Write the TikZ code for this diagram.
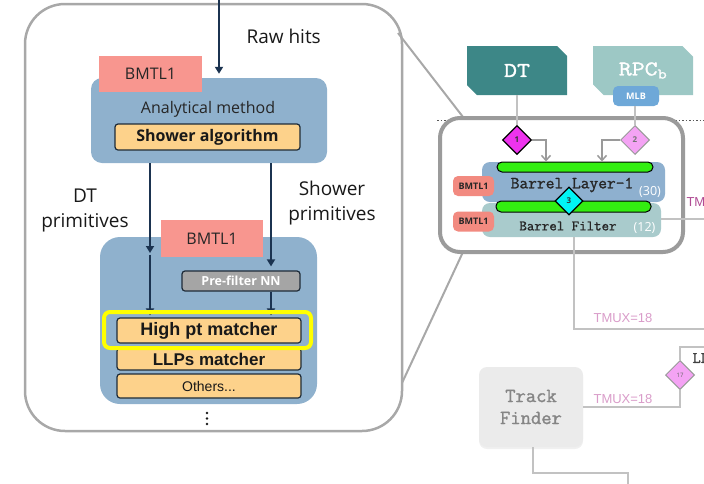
\documentclass[tikz,border=0pt]{standalone}
\usepackage{fontspec}
\setmainfont{Open Sans}
\newfontfamily\arialf{Liberation Sans}
\newfontfamily\typew{Latin Modern Mono}[FakeBold=1.4]
\newfontfamily\typewide{Latin Modern Mono}[FakeBold=1.4, FakeStretch=1.2]
\usetikzlibrary{arrows.meta,shapes.geometric,shapes.misc,shadows}

\definecolor{navy}{HTML}{1B3350}
\definecolor{boxblue}{HTML}{8FB1CD}
\definecolor{salmon}{HTML}{F8968F}
\definecolor{algo}{HTML}{FDD28B}
\definecolor{edgedark}{HTML}{1E2B38}
\definecolor{hlyellow}{HTML}{FFFF00}
\definecolor{prefill}{HTML}{A5A5A5}
\definecolor{panelgray}{HTML}{A8A8A8}
\definecolor{grpgray}{HTML}{9B9B9B}
\definecolor{linegray}{HTML}{C2C2C2}
\definecolor{arrowgray}{HTML}{9A9A9A}
\definecolor{dtteal}{HTML}{3D8787}
\definecolor{rpcteal}{HTML}{9DC8C5}
\definecolor{mlbblue}{HTML}{6EA8D8}
\definecolor{layerblue}{HTML}{8EB0CF}
\definecolor{filterteal}{HTML}{A9CBCC}
\definecolor{barfill}{HTML}{33EE11}
\definecolor{magdia}{HTML}{EE33EE}
\definecolor{pinkdia}{HTML}{F4A3F4}
\definecolor{cyandia}{HTML}{00F5F5}
\definecolor{tagred}{HTML}{F28A80}
\definecolor{tmuxdark}{HTML}{B04C94}
\definecolor{tmuxlight}{HTML}{D99CC9}
\definecolor{tfgray}{HTML}{EBEBEB}
\definecolor{tftext}{HTML}{858585}

\newcommand\fsz[2]{\fontsize{#1}{#2}\selectfont}

\tikzset{
  panelbox/.style={draw=panelgray, line width=2.5pt, rounded corners=40pt, inner sep=0pt},
  bluebox/.style={fill=boxblue, inner sep=0pt},
  tagbox/.style={fill=salmon, inner sep=0pt, text=black!85, font=\fsz{16}{19}},
  algobox/.style={fill=algo, draw=edgedark, line width=1.2pt, rounded corners=3pt, inner sep=0pt, text=black!90, minimum width=184},
  prebox/.style={fill=prefill, draw=edgedark, line width=1.2pt, rounded corners=3pt, inner sep=0pt, text=white, font=\bfseries\fsz{12.5}{15}},
  navyarrow/.style={draw=navy, line width=1.8pt, -{Triangle[length=7pt,width=8pt]}},
  lbl/.style={font=\fsz{19}{25}, text=black!90, align=center},
  zoomline/.style={draw=panelgray, line width=2pt},
  dotline/.style={draw=black!65, line width=1pt, dash pattern=on 1.5pt off 2pt},
  grpbox/.style={draw=grpgray, line width=4pt, rounded corners=20pt, fill=white, inner sep=0pt},
  srcbox/.style={chamfered rectangle, chamfered rectangle corners={north east,south west},
    chamfered rectangle xsep=7pt, minimum width=100, minimum height=49, inner sep=0pt,
    text=white, font=\typewide\fsz{21}{24}},
  greyline/.style={draw=linegray, line width=1.5pt},
  barbarrow/.style={draw=arrowgray, line width=1.5pt, -{Straight Barb[length=5pt,width=9pt]}},
  diam/.style={diamond, inner sep=0pt, minimum width=29, minimum height=29, font=\bfseries\fsz{8}{9}},
  greenbar/.style={fill=barfill, draw=black, line width=1pt, rounded corners=5pt, inner sep=0pt},
  tagsm/.style={fill=tagred, rounded corners=5pt, inner sep=0pt, minimum width=41, minimum height=20,
    text=black!85, font=\bfseries\fsz{9}{11}},
  tmux/.style={font=\arialf\fsz{13}{15}},
}

\begin{document}
\begin{tikzpicture}[x=1pt,y=-1pt]
\useasboundingbox (0,0) rectangle (704,483);
\clip (0,0) rectangle (704,483);

% ---------- detail panel ----------
\node[panelbox, minimum width=377, minimum height=427] (panel) at (213.5,217.5) {};

% first processing block
\node[bluebox, rounded corners=11pt, minimum width=236, minimum height=85] (ana) at (209,120.5) {};
\node[tagbox, minimum width=103, minimum height=36] (bm1) at (150.5,74) {BMTL1};
\node[font=\fsz{16}{19}, text=black!85] (anatxt) at (208,109) {Analytical method};
\node[algobox, minimum width=185, minimum height=26, font=\bfseries\fsz{16}{19}] (shw) at (207.5,137) {Shower algorithm};

\coordinate (rawin) at (219,0);
\draw[navyarrow, shorten >=4pt] (rawin) -- (rawin |- ana.north);
\node[font=\fsz{19}{23}, text=black!90, anchor=west] (rawtxt) at (243,36) {Raw hits};

% second processing block
\node[bluebox, rounded corners=20pt, minimum width=217, minimum height=167] (blk) at (208.5,320.5) {};
\node[tagbox, minimum width=102, minimum height=37] (bm2) at (212,238.5) {BMTL1};
\node[prebox, minimum width=118, minimum height=20] (pre) at (241,281) {Pre-filter NN};
\node[algobox, minimum height=25, font=\arialf\bfseries\fsz{18}{21}] (hpt) at (209,330.5) {High pt matcher};
\node[algobox, minimum height=22, font=\arialf\bfseries\fsz{17}{20}] (llp) at (209,359) {LLPs matcher};
\node[algobox, minimum height=24, font=\arialf\fsz{14}{17}] (oth) at (209,386) {Others...};

% primitive flows
\coordinate (dtmid) at (150,253);
\coordinate (shx) at (271,0);
\draw[navyarrow] (ana.south -| dtmid) -- (dtmid);
\draw[navyarrow, shorten >=2pt] ([yshift=-1.5pt]dtmid) -- (dtmid |- hpt.north);
\draw[navyarrow, shorten >=4pt] (ana.south -| shx) -- (pre.north -| shx);
\draw[navyarrow, shorten >=2pt] (pre.south -| shx) -- (hpt.north -| shx);

\node[draw=hlyellow, line width=4pt, rounded corners=6pt, minimum width=207, minimum height=36, inner sep=0pt] (hl) at (207.5,330) {};

\node[lbl] (dtlbl) at (85,210) {DT\\primitives};
\node[lbl] (shlbl) at (332,203) {Shower\\primitives};

\foreach \yy in {413,418.5,424} \fill[black!90] (207,\yy) circle (1.4pt);

% ---------- zoom guides ----------
\coordinate (z1a) at (398,33);
\coordinate (z1b) at (463,117);
\coordinate (z2a) at (402,383);
\coordinate (z2b) at (463,252);
\draw[zoomline] (z1a) -- (z1b);
\draw[zoomline] (z2a) -- (z2b);

% ---------- barrel overview ----------
\coordinate (dl1) at (437,120);
\coordinate (dl2) at (704,120);
\draw[dotline] (dl1) -- (dl2);

\node[srcbox, fill=dtteal] (dt) at (517,70.5) {DT};
\node[srcbox, fill=rpcteal] (rpc) at (643,70.5) {RPC\textsubscript{b}};
\node[fill=mlbblue, rounded corners=5pt, minimum width=46, minimum height=20, inner sep=0pt,
      text=white, font=\bfseries\fsz{9}{11}] (mlb) at (636,96) {MLB};

\node[grpbox, minimum width=243, minimum height=134] (grp) at (561.5,185) {};

\node[diam, fill=magdia, draw=black, line width=1.2pt, text=black!80] (d1) at (517,140) {1};
\node[diam, fill=pinkdia, draw=arrowgray, line width=1pt, text=black!55] (d2) at (635,140) {2};
\draw[greyline] (dt.south) -- (d1.north);
\draw[greyline] (mlb.south -| d2) -- (d2.north);

\node[fill=layerblue, rounded corners=8pt, minimum width=183, minimum height=40, inner sep=0pt] (bl) at (573.5,182) {};
\node[fill=filterteal, rounded corners=8pt, minimum width=179, minimum height=34, inner sep=0pt] (bf) at (571.5,220) {};
\node[greenbar, minimum width=156, minimum height=10] (g1) at (575,167) {};
\node[greenbar, minimum width=155, minimum height=11] (g2) at (573.5,206.5) {};

\coordinate (a1) at (546,0);
\coordinate (a2) at (602,0);
\draw[barbarrow] (d1.east) -| (g1.north -| a1);
\draw[barbarrow] (d2.west) -| (g1.north -| a2);

\node[font=\typew\fsz{17}{20}, text=black!85] (bltxt) at (572,185) {Barrel Layer-1};
\node[font=\fsz{12.5}{15}, text=white] (n30) at (650,192) {(30)};
\node[font=\typew\fsz{14.5}{17}, text=black!85] (bftxt) at (568,226) {Barrel Filter};
\node[font=\fsz{12.5}{15}, text=white] (n12) at (644.5,228) {(12)};

\node[diam, fill=cyandia, draw=black, line width=1.2pt, minimum width=28, minimum height=28, text=black!80] (d3) at (569,201) {3};

\node[tagsm] (b1) at (473.5,186) {BMTL1};
\node[tagsm] (b2) at (473.5,221.5) {BMTL1};

% outgoing links
\coordinate (e1) at (704,219);
\draw[greyline] (bf.east |- e1) -- (e1);
\node[tmux, text=tmuxdark, anchor=west] (tmu1) at (683,202) {TMU};

\coordinate (tap) at (574,0);
\coordinate (e2) at (704,329);
\draw[greyline] (bf.south -| tap) |- (e2);
\node[tmux, text=tmuxlight] (tmu2) at (623,318) {TMUX=18};

\node[diam, fill=pinkdia, draw=arrowgray, line width=1pt, text=black!60, font=\fsz{6}{7}] (d17) at (680,375) {17};
\coordinate (e3) at (704,347);
\draw[greyline] (d17.north) |- (e3);
\node[font=\typew\fsz{16}{18}, text=black!75, anchor=west] (ll) at (689,358) {LL};

\node[fill=tfgray, rounded corners=8pt, minimum width=104, minimum height=80, inner sep=0pt,
      drop shadow={opacity=0.12, shadow xshift=0pt, shadow yshift=-2pt},
      text=tftext, font=\typew\fsz{20}{22}, align=center] (tf) at (531,407) {Track\\Finder};
\draw[greyline] (d17.south) |- (tf.east);
\node[tmux, text=tmuxlight] (tmu3) at (623,399) {TMUX=18};

\coordinate (tx) at (533,0);
\coordinate (k4) at (628,473);
\coordinate (e4) at (628,490);
\draw[greyline] (tf.south -| tx) |- (k4) -- (e4);
\end{tikzpicture}
\end{document}
